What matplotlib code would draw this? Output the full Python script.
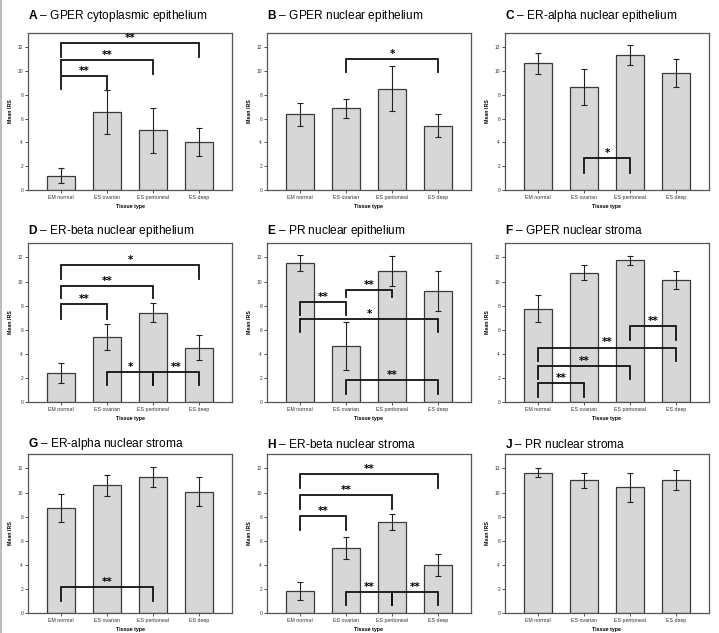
import matplotlib
matplotlib.use("Agg")
import matplotlib.pyplot as plt
from matplotlib.lines import Line2D

plt.rcParams["font.family"] = ["Liberation Sans", "DejaVu Sans"]
plt.rcParams["mathtext.fontset"] = "custom"
plt.rcParams["mathtext.rm"] = "Liberation Sans"
plt.rcParams["mathtext.bf"] = "Liberation Sans:bold"

categories = ["EM normal", "ES ovarian", "ES peritoneal", "ES deep"]
yticks = [0, 2, 4, 6, 8, 10, 12]

titles = ["A", "B", "C", "D", "E", "F", "G", "H", "J"]
subtitles = ["GPER cytoplasmic epithelium", "GPER nuclear epithelium",
             "ER-alpha nuclear epithelium", "ER-beta nuclear epithelium",
             "PR nuclear epithelium", "GPER nuclear stroma",
             "ER-alpha nuclear stroma", "ER-beta nuclear stroma",
             "PR nuclear stroma"]

means_A = [1.2, 6.55, 5.02, 4.05]
errs_A = [0.65, 1.88, 1.87, 1.17]
means_B = [6.37, 6.86, 8.53, 5.41]
errs_B = [0.97, 0.83, 1.87, 0.98]
means_C = [10.65, 8.64, 11.36, 9.86]
errs_C = [0.9, 1.5, 0.83, 1.17]
means_D = [2.44, 5.39, 7.42, 4.52]
errs_D = [0.83, 1.1, 0.8, 1.04]
means_E = [11.53, 4.63, 10.88, 9.24]
errs_E = [0.64, 1.98, 1.26, 1.66]
means_F = [7.74, 10.73, 11.75, 10.14]
errs_F = [1.12, 0.62, 0.38, 0.74]
means_G = [8.72, 10.59, 11.27, 10.08]
errs_G = [1.17, 0.89, 0.83, 1.18]
means_H = [1.81, 5.4, 7.54, 3.98]
errs_H = [0.75, 0.93, 0.67, 0.9]
means_J = [11.66, 11.01, 10.42, 11.04]
errs_J = [0.37, 0.6, 1.23, 0.85]

# significance brackets: (group i, group j, bar height, left leg end, right leg end, label)
sig_A = [(0, 1, 9.58, 8.48, 8.48, "**"), (0, 2, 10.9, 9.78, 9.78, "**"),
         (0, 3, 12.4, 11.2, 11.2, "**")]
sig_B = [(1, 3, 11.02, 9.94, 9.94, "*")]
sig_C = [(1, 2, 2.66, 1.47, 1.47, "*")]
sig_D = [(0, 1, 8.15, 6.88, 6.88, "**"), (0, 2, 9.63, 8.62, 8.62, "**"),
         (0, 3, 11.38, 10.25, 10.25, "*"), (1, 2, 2.47, 1.4, 1.4, "*"),
         (2, 3, 2.47, 1.4, 1.4, "**")]
sig_E = [(0, 1, 8.33, 7.2, 7.2, "**"), (1, 2, 9.32, 8.7, 8.7, "**"),
         (0, 3, 6.92, 5.79, 5.79, "*"), (1, 3, 1.84, 0.7, 0.7, "**")]
sig_F = [(0, 1, 1.58, 0.45, 0.45, "**"), (0, 2, 3.02, 1.92, 1.92, "**"),
         (0, 3, 4.52, 3.39, 3.39, "**"), (2, 3, 6.27, 5.17, 5.17, "**")]
sig_G = [(0, 2, 2.15, 0.99, 0.99, "**")]
sig_H = [(0, 1, 8.05, 6.92, 6.92, "**"), (0, 2, 9.8, 8.67, 8.67, "**"),
         (0, 3, 11.5, 10.37, 10.37, "**"), (1, 2, 1.75, 0.7, 0.7, "**"),
         (2, 3, 1.75, 0.7, 0.7, "**")]
sig_J = []

means_all = [means_A, means_B, means_C, means_D, means_E, means_F, means_G, means_H, means_J]
errs_all = [errs_A, errs_B, errs_C, errs_D, errs_E, errs_F, errs_G, errs_H, errs_J]
sig_all = [sig_A, sig_B, sig_C, sig_D, sig_E, sig_F, sig_G, sig_H, sig_J]

W, H = 719, 633
fig = plt.figure(figsize=(W / 100, H / 100), dpi=100)
fig.patch.set_facecolor("white")

col_x = [(28, 232), (267, 471), (505, 709)]
row_y = [(33, 190), (243, 402), (454, 613)]
title_gap = [17, 12, 10]

for k in range(9):
    r, c = divmod(k, 3)
    x0, x1 = col_x[c]
    y0, y1 = row_y[r]
    ax = fig.add_axes([x0 / W, 1 - y1 / H, (x1 - x0) / W, (y1 - y0) / H])
    xs = list(range(len(categories)))
    ax.bar(xs, means_all[k], width=0.6, color="#d7d7d7", edgecolor="#3a3a3a",
           linewidth=0.9, zorder=2)
    ax.errorbar(xs, means_all[k], yerr=errs_all[k], fmt="none", ecolor="#222222",
                elinewidth=0.8, capsize=2.2, capthick=0.8, zorder=3)
    for (i, j, yb, yl, yr, lab) in sig_all[k]:
        ax.plot([i, i, j, j], [yl, yb, yb, yr], color="#111111", lw=1.3,
                solid_joinstyle="miter", zorder=4)
        ax.text((i + j) / 2, yb + 0.42, lab, ha="center", va="center",
                fontsize=7.5, fontweight="bold", family="DejaVu Sans", zorder=5)
    ax.set_xlim(-0.715, 3.71)
    ax.set_ylim(0, 13.2)
    ax.set_yticks(yticks)
    ax.set_yticklabels([str(v) for v in yticks], fontsize=3.5)
    ax.set_xticks(xs)
    ax.set_xticklabels(categories, fontsize=3.8)
    ax.tick_params(axis="both", length=2, width=0.6, pad=1.5, colors="#333333")
    for s in ax.spines.values():
        s.set_color("#555555")
        s.set_linewidth(0.9)
    ax.set_ylabel("Mean IRS", fontsize=3.8, fontweight="bold", labelpad=3)
    ax.set_xlabel("Tissue type", fontsize=3.8, fontweight="bold", labelpad=3)
    fig.text(x0 / W, 1 - (y0 - title_gap[r]) / H,
             r"$\mathbf{" + titles[k] + "}$ \u2013 " + subtitles[k],
             fontsize=8.6, ha="left", va="center")

fig.add_artist(Line2D([1 / W, 1 / W], [0, 1], color="#bdbdbd", lw=1.5))
fig.savefig("out.png", dpi=100)
